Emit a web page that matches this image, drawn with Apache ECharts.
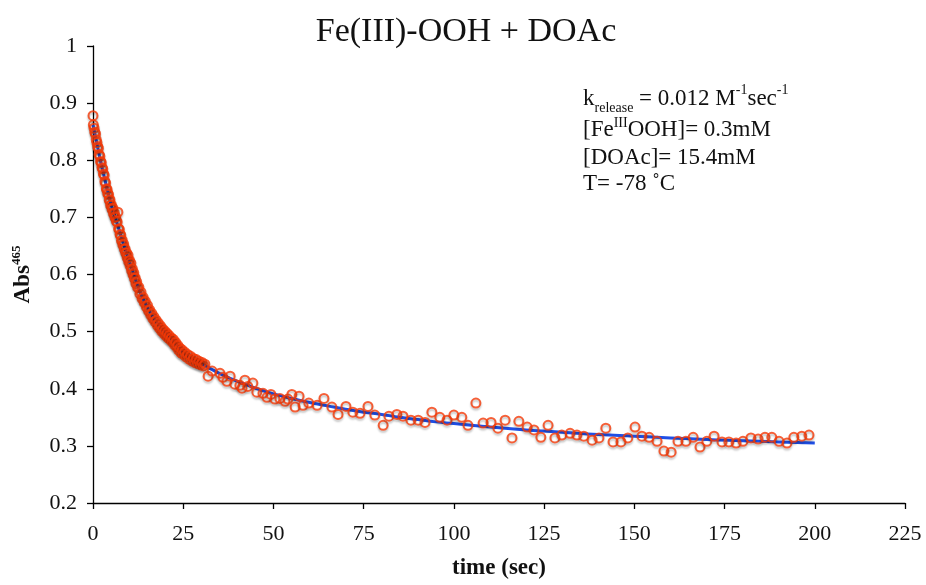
<!DOCTYPE html>
<html>
<head>
<meta charset="utf-8">
<script src="https://cdn.jsdelivr.net/npm/echarts@6/dist/echarts.min.js"></script>
<style>
html,body{margin:0;padding:0;background:#fff;}
#chart{width:926px;height:585px;}
</style>
</head>
<body>
<div id="chart"></div>
<script>
// ---- Data ----
const chartTitle = 'Fe(III)-OOH + DOAc';
const xTicks = [0, 25, 50, 75, 100, 125, 150, 175, 200, 225];
const yTicks = [0.2, 0.3, 0.4, 0.5, 0.6, 0.7, 0.8, 0.9, 1];

// measured points: time (sec)
const obsTime = [
  0.0, 0.1, 0.3, 0.5, 0.7, 0.9, 1.1, 1.3, 1.5, 1.7, 1.9, 2.1, 2.3, 2.5, 2.7, 2.9,
  3.1, 3.3, 3.5, 3.7, 3.9, 4.1, 4.3, 4.5, 4.7, 4.9, 5.1, 5.3, 5.5, 5.7, 5.9,
  6.1, 6.3, 6.5, 6.7, 6.9, 7.1, 7.3, 7.5, 7.7, 7.9, 8.1, 8.3, 8.5, 8.7, 8.9,
  9.1, 9.3, 9.5, 9.7, 9.9, 10.1, 10.3, 10.5, 10.7, 10.9, 11.1, 11.3, 11.5, 11.7, 11.9,
  12.1, 12.4, 12.7, 13.0, 13.3, 13.6, 13.9, 14.2, 14.5, 14.8, 15.1, 15.4, 15.7,
  16.0, 16.3, 16.6, 16.9, 17.2, 17.5, 17.8, 18.1, 18.4, 18.7, 19.0, 19.3, 19.6, 19.9,
  20.2, 20.5, 20.8, 21.1, 21.4, 21.7, 22.0, 22.3, 22.6, 22.9, 23.2, 23.5, 23.8,
  24.1, 24.4, 24.7, 25.0, 25.4, 25.8, 26.2, 26.6, 27.0, 27.4, 27.8, 28.2, 28.6,
  29.0, 29.4, 29.8, 30.2, 30.6, 31.0,
  31.9, 33.0, 35.2, 36.0, 37.1, 38.0, 39.3, 40.7, 41.3, 42.1, 42.9, 44.3, 45.4,
  47.1, 48.2, 49.3, 50.4, 51.8, 53.2, 54.0, 55.1, 56.0, 57.1, 58.2, 59.8, 62.1,
  64.0, 66.2, 67.9, 70.1, 72.0, 74.0, 76.2, 78.1, 80.4, 82.0, 84.2,
  85.9, 88.1, 90.1, 92.0, 93.9, 96.1, 98.1, 100.0, 102.2, 103.9, 106.1, 108.1,
  110.3, 112.2, 114.2, 116.1, 118.0, 120.3, 122.2, 124.1, 126.1, 128.0, 129.9,
  132.2, 134.1, 136.0, 138.3, 140.2, 142.1, 144.1, 146.3, 148.2, 150.2, 152.1, 154.1,
  156.3, 158.2, 160.2, 162.1, 164.3, 166.3, 168.2, 170.1, 172.1, 174.3, 176.2,
  178.2, 180.1, 182.3, 184.3, 186.2, 188.1, 190.1, 192.3, 194.2, 196.4, 198.4
];
// measured points: Abs at 465 nm
const obsAbs = [
  0.878, 0.862, 0.856, 0.849, 0.846, 0.836, 0.831, 0.824, 0.821, 0.810, 0.807, 0.798, 0.796, 0.787, 0.785, 0.776,
  0.774, 0.763, 0.760, 0.750, 0.749, 0.742, 0.740, 0.730, 0.731, 0.721, 0.722, 0.714, 0.716, 0.706, 0.708,
  0.700, 0.701, 0.693, 0.692, 0.709, 0.680, 0.679, 0.670, 0.669, 0.659, 0.660, 0.651, 0.653, 0.644, 0.645,
  0.637, 0.638, 0.629, 0.634, 0.622, 0.625, 0.615, 0.620, 0.607, 0.610, 0.600, 0.603, 0.593, 0.594, 0.584,
  0.587, 0.577, 0.578, 0.566, 0.569, 0.558, 0.560, 0.551, 0.553, 0.543, 0.546, 0.536, 0.538,
  0.529, 0.532, 0.523, 0.526, 0.517, 0.520, 0.511, 0.515, 0.506, 0.510, 0.501, 0.505, 0.497, 0.501,
  0.493, 0.497, 0.489, 0.493, 0.486, 0.489, 0.482, 0.486, 0.477, 0.481, 0.473, 0.476, 0.467,
  0.471, 0.463, 0.468, 0.460, 0.464, 0.456, 0.460, 0.452, 0.457, 0.449, 0.453, 0.446, 0.451,
  0.444, 0.448, 0.442, 0.446, 0.440, 0.443,
  0.422, 0.431, 0.427, 0.420, 0.413, 0.422, 0.408, 0.406, 0.401, 0.415, 0.404, 0.410, 0.394,
  0.392, 0.385, 0.390, 0.382, 0.383, 0.378, 0.382, 0.390, 0.368, 0.387, 0.371, 0.375, 0.371,
  0.383, 0.368, 0.355, 0.369, 0.359, 0.357, 0.369, 0.354, 0.336, 0.352, 0.355,
  0.352, 0.345, 0.345, 0.341, 0.359, 0.350, 0.345, 0.354, 0.350, 0.336, 0.375, 0.340,
  0.341, 0.331, 0.345, 0.314, 0.343, 0.333, 0.328, 0.315, 0.336, 0.314, 0.319,
  0.322, 0.319, 0.317, 0.310, 0.314, 0.331, 0.307, 0.307, 0.314, 0.333, 0.317, 0.315,
  0.308, 0.291, 0.289, 0.308, 0.308, 0.315, 0.298, 0.308, 0.317, 0.307, 0.307,
  0.305, 0.308, 0.314, 0.312, 0.315, 0.315, 0.308, 0.305, 0.315, 0.317, 0.319
];

// fitted curve
const fitTime = [0, 1, 2, 3, 4, 5, 6, 7, 8, 9, 10, 11, 12, 13, 14, 15, 16, 17, 18, 19, 20,
  22, 24, 26, 28, 30, 35, 40, 45, 50, 55, 60, 65, 70, 75, 80, 85, 90, 95, 100,
  110, 120, 130, 140, 150, 160, 170, 180, 190, 200];
const fitAbs = [0.862, 0.832, 0.801, 0.774, 0.747, 0.723, 0.703, 0.683, 0.662, 0.643, 0.624, 0.606, 0.587, 0.570, 0.556, 0.544, 0.532, 0.522, 0.513, 0.505, 0.498,
  0.486, 0.470, 0.458, 0.450, 0.444, 0.427, 0.413, 0.401, 0.391, 0.383, 0.376, 0.370, 0.364, 0.359, 0.355, 0.350, 0.346, 0.342, 0.339,
  0.333, 0.328, 0.324, 0.320, 0.317, 0.314, 0.311, 0.309, 0.307, 0.305];

// ---- Chart ----
const serif = "'Liberation Serif','Times New Roman',serif";
const chart = echarts.init(document.getElementById('chart'), null, {renderer: 'canvas'});
const scatterData = obsTime.map((t, i) => [t, obsAbs[i]]);
const fitData = fitTime.map((t, i) => [t, fitAbs[i]]);

const option = {
  backgroundColor: '#ffffff',
  animation: false,
  title: {
    text: chartTitle,
    left: 461, top: 10, textAlign: 'center',
    textStyle: {fontFamily: serif, fontSize: 34, fontWeight: 'normal', color: '#111'}
  },
  grid: {left: 93, right: 21, top: 46, bottom: 81},
  xAxis: {
    type: 'value', min: xTicks[0], max: xTicks[xTicks.length - 1], interval: 25,
    name: 'time (sec)', nameLocation: 'middle', nameGap: 54,
    nameTextStyle: {fontFamily: serif, fontSize: 23, fontWeight: 'bold', color: '#111'},
    axisLine: {onZero: false, lineStyle: {color: '#000', width: 1.3}},
    axisTick: {show: true, inside: false, length: 6, lineStyle: {color: '#000', width: 1.3}},
    axisLabel: {fontFamily: serif, fontSize: 22, color: '#111', margin: 20},
    splitLine: {show: false}
  },
  yAxis: {
    type: 'value', min: yTicks[0], max: yTicks[yTicks.length - 1], interval: 0.1,
    name: '{a|Abs}{s|465}', nameLocation: 'middle', nameGap: 57, nameRotate: 90,
    nameTextStyle: {
      color: '#111',
      rich: {
        a: {fontFamily: serif, fontSize: 23, fontWeight: 'bold', color: '#111', lineHeight: 26},
        s: {fontFamily: serif, fontSize: 13, fontWeight: 'bold', color: '#111', verticalAlign: 'top', lineHeight: 14}
      }
    },
    axisLine: {show: true, lineStyle: {color: '#000', width: 1.3}},
    axisTick: {show: true, inside: false, length: 6, lineStyle: {color: '#000', width: 1.3}},
    axisLabel: {fontFamily: serif, fontSize: 22, color: '#111', margin: 16,
      formatter: v => String(+v.toFixed(1))},
    splitLine: {show: false}
  },
  series: [
    {
      type: 'line', data: fitData, showSymbol: false, smooth: true, z: 2,
      lineStyle: {color: '#1f4fe6', width: 3}
    },
    {
      type: 'scatter', data: scatterData, symbol: 'circle', symbolSize: 9, z: 3,
      itemStyle: {
        color: 'rgba(255,255,255,0)', borderColor: '#f53a08', borderWidth: 2,
        shadowColor: 'rgba(0,0,0,0.3)', shadowBlur: 2, shadowOffsetY: 2
      }
    }
  ],
  graphic: [
    {
      type: 'text', left: 583, top: 83,
      style: {
        text: '{n|k}{sub|release}{n| = 0.012 M}{sup|-1}{n|sec}{sup|-1}',
        rich: {
          n: {fontFamily: serif, fontSize: 23, fill: '#111', lineHeight: 32},
          sub: {fontFamily: serif, fontSize: 14, fill: '#111', verticalAlign: 'bottom', lineHeight: 14},
          sup: {fontFamily: serif, fontSize: 14, fill: '#111', verticalAlign: 'top', lineHeight: 14}
        }
      }
    },
    {
      type: 'text', left: 583, top: 116,
      style: {
        text: '{n|[Fe}{sup|III}{n|OOH]= 0.3mM}',
        rich: {
          n: {fontFamily: serif, fontSize: 23, fill: '#111', lineHeight: 28},
          sup: {fontFamily: serif, fontSize: 14, fill: '#111', verticalAlign: 'top', lineHeight: 14}
        }
      }
    },
    {
      type: 'text', left: 583, top: 146,
      style: {text: '[DOAc]= 15.4mM', font: '23px ' + serif, fill: '#111'}
    },
    {
      type: 'text', left: 583, top: 172,
      style: {text: 'T= -78 \u02DAC', font: '23px ' + serif, fill: '#111'}
    }
  ]
};
chart.setOption(option);
</script>
</body>
</html>
